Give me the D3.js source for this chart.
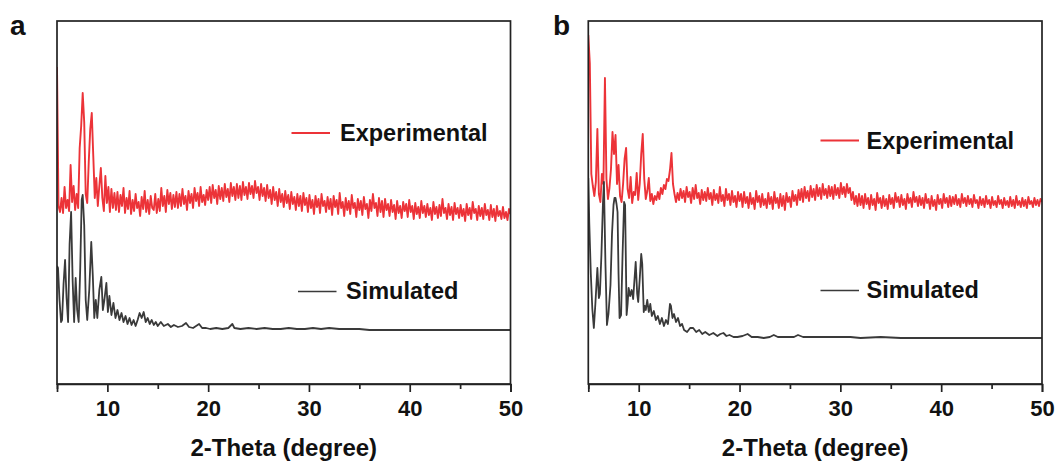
<!DOCTYPE html>
<html><head><meta charset="utf-8">
<script src="https://cdn.jsdelivr.net/npm/d3@7"></script>
<style>body{margin:0;background:#fff}svg{display:block}</style>
</head><body><svg id="chart" width="1059" height="462"></svg>
<script>
// ---------- data ----------
const xTicks = [10, 20, 30, 40, 50];
const xMinorTicks = [5, 15, 25, 35, 45];
const xDomain = [5, 50];
const xLabel = "2-Theta (degree)";
const seriesNames = ["Experimental", "Simulated"];
const panelLabels = ["a", "b"];

// experimental patterns sampled on a 2θ grid (start 5°, step 0.15°), intensity a.u. (offset)
const expGridStart = 5, expGridStep = 0.15;
const expA = [
 317,178,172,186,171,197,176,184,173,219,182,198,174,190,176,236,258,291,262,190,
 181,222,255,271,228,186,206,178,198,216,186,173,208,181,197,172,195,176,191,174,
 192,172,189,178,196,171,186,175,193,170,184,173,190,176,182,168,187,175,193,172,
 184,170,188,176,174,190,171,185,173,196,178,188,172,194,180,191,175,189,177,192,
 176,190,178,195,180,188,174,193,181,190,176,196,183,191,178,197,182,189,179,194,
 184,197,181,199,186,194,180,198,185,196,183,200,187,195,182,201,188,197,184,200,
 186,198,184,202,189,197,185,201,190,198,186,203,191,197,184,200,188,196,183,199,
 186,194,180,197,184,192,178,195,182,190,177,193,181,189,175,192,180,187,174,190,
 178,188,173,191,179,186,172,189,176,184,170,188,177,185,171,190,178,183,172,187,
 175,185,169,188,177,184,170,191,176,182,168,186,174,183,170,189,176,181,167,185,
 174,183,169,187,175,180,166,184,173,190,176,181,168,186,172,183,167,185,174,180,
 168,184,172,179,165,183,171,178,166,182,173,180,167,184,172,178,165,181,170,177,
 166,183,171,178,167,180,169,176,164,182,170,177,166,179,168,185,171,176,165,180,
 169,177,164,181,170,176,166,179,168,175,163,180,169,176,165,182,171,175,164,178,
 168,176,165,180,169,174,164,179,167,175,163,178,168,173,165,177,166,172,164,175,
 170
];
const expB = [
 349,321,210,198,188,202,255,190,182,210,200,306,205,185,196,215,252,230,249,200,
 219,188,182,200,225,236,195,186,207,181,192,189,211,184,200,230,250,205,185,193,
 206,183,190,180,188,184,192,185,196,190,199,195,205,203,214,231,200,190,182,191,
 184,195,186,193,182,197,187,192,181,196,185,199,186,191,180,194,184,192,183,196,
 185,191,179,194,184,190,181,197,183,189,178,195,184,190,179,193,182,188,177,192,
 183,190,177,192,181,187,176,191,180,186,175,193,182,188,177,190,179,185,176,191,
 180,187,175,192,181,186,176,190,178,188,174,191,182,187,177,193,183,189,179,194,
 184,195,182,197,186,193,183,198,187,195,184,199,188,196,185,200,189,195,186,198,
 188,197,185,199,189,196,186,201,190,197,187,200,191,196,184,192,180,188,178,190,
 179,188,176,190,180,186,175,189,179,185,174,191,181,186,176,188,178,185,175,189,
 180,186,176,191,182,187,177,189,179,185,175,190,181,186,177,192,182,187,178,188,
 179,186,176,190,181,185,175,188,178,184,174,189,180,185,176,190,181,186,177,188,
 178,187,180,189,179,185,177,190,181,186,178,188,180,185,177,189,181,184,176,187,
 179,185,177,188,180,184,176,187,179,183,177,188,180,184,176,186,179,183,177,187,
 178,184,176,188,179,183,177,186,178,184,176,187,180,183,177,186,179,184,178,185,
 182
];

// simulated patterns as [2θ, intensity]
const simA = [
 [5.0,118],[5.1,116],[5.25,84],[5.4,62],[5.5,64],[5.65,100],[5.8,124],[5.95,86],[6.1,62],[6.25,140],
 [6.4,172],[6.55,104],[6.7,62],[6.85,106],[7.0,74],[7.15,62],[7.3,114],[7.45,184],[7.55,189],[7.7,159],
 [7.85,84],[8.0,64],[8.2,94],[8.4,142],[8.55,109],[8.7,66],[8.85,84],[9.0,66],[9.2,94],[9.4,107],
 [9.55,74],[9.7,84],[9.9,101],[10.05,72],[10.2,88],[10.4,69],[10.6,81],[10.8,66],[11.0,74],[11.2,64],
 [11.4,71],[11.6,62],[11.8,68],[12.0,60],[12.2,66],[12.4,59],[12.6,64],[12.8,58],[13.0,64],[13.2,71],
 [13.4,66],[13.6,72],[13.8,62],[14.0,66],[14.2,60],[14.4,64],[14.6,59],[14.8,62],[15.0,58],[15.3,62],
 [15.6,58],[16.0,60],[16.3,57],[16.6,59],[17.0,57],[17.4,58],[17.8,61],[18.1,57],[18.5,56],[18.8,58],
 [19.1,60],[19.4,56],[19.8,56],[20.2,55],[20.8,56],[21.4,55],[22.0,56],[22.4,60],[22.6,56],[23.2,55],
 [24.0,56],[24.8,55],[25.6,56],[26.4,55],[27.2,55],[28.0,56],[28.8,55],[29.6,55],[30.4,56],[31.2,55],
 [32.0,56],[33.0,55],[34.0,55],[35.0,55],[36.0,54],[38.0,54],[40.0,54],[42.0,54],[44.0,54],[46.0,54],
 [48.0,54],[50.0,54]
];
const simB = [
 [5.0,206],[5.1,160],[5.25,110],[5.4,75],[5.55,56],[5.7,80],[5.9,116],[6.05,86],[6.15,90],[6.3,129],
 [6.45,180],[6.55,202],[6.7,120],[6.85,59],[7.0,70],[7.2,99],[7.35,150],[7.5,179],[7.6,186],[7.7,186],
 [7.8,180],[7.9,172],[8.0,110],[8.1,66],[8.25,69],[8.4,130],[8.55,182],[8.65,179],[8.8,69],[8.9,80],
 [9.0,96],[9.15,88],[9.3,94],[9.45,85],[9.55,100],[9.7,122],[9.85,90],[9.95,82],[10.1,105],[10.25,130],
 [10.35,120],[10.5,72],[10.6,78],[10.7,74],[10.85,84],[11.0,72],[11.15,80],[11.3,68],[11.5,73],[11.7,64],
 [11.9,68],[12.1,60],[12.3,66],[12.5,58],[12.7,64],[12.9,60],[13.1,80],[13.2,78],[13.35,66],[13.5,70],
 [13.7,62],[13.9,66],[14.1,58],[14.3,60],[14.5,54],[14.8,52],[15.1,56],[15.4,56],[15.7,52],[16.0,54],
 [16.3,50],[16.6,52],[17.0,49],[17.4,51],[17.8,48],[18.1,50],[18.4,51],[18.7,48],[19.0,49],[19.4,47],
 [19.8,47],[20.3,48],[20.8,50],[21.2,47],[21.8,47],[22.4,46],[23.0,47],[23.4,49],[23.8,47],[24.6,47],
 [25.4,47],[25.8,49],[26.3,47],[27.0,47],[28.0,47],[29.0,47],[30.0,47],[31.0,47],[32.0,46],[34.0,47],
 [36.0,46],[38.0,46],[40.0,46],[42.0,46],[44.0,46],[46.0,46],[48.0,46],[50.0,46]
];
const yDomain = [0, 363];

// ---------- drawing ----------
const RED = "#ec3338", DARK = "#3a3a3a", AX = "#222";
const FONT = "'Liberation Sans', Arial, Helvetica, sans-serif";
const svg = d3.select("#chart");

const panels = [
  {label: panelLabels[0], exp: expA, sim: simA, left: 57, right: 510.5, top: 21, bottom: 384,
   labelX: 10, legExpY: 133, legSimY: 291.5, legExpX: 291.5, legSimX: 298, legLen: 38.5, textExpX: 340, textSimX: 346},
  {label: panelLabels[1], exp: expB, sim: simB, left: 588.3, right: 1042, top: 21, bottom: 384,
   labelX: 553, legExpY: 140.5, legSimY: 290.5, legExpX: 820.5, legSimX: 820.5, legLen: 38.5, textExpX: 866.5, textSimX: 866.5}
];

panels.forEach((p, pi) => {
  const x = d3.scaleLinear().domain(xDomain).range([p.left, p.right]);
  const y = d3.scaleLinear().domain(yDomain).range([p.bottom, p.top]);
  const g = svg.append("g");
  const clipId = "clip" + pi;
  svg.append("clipPath").attr("id", clipId).append("rect")
    .attr("x", p.left).attr("y", p.top).attr("width", p.right - p.left).attr("height", p.bottom - p.top);

  const expPts = p.exp.map((v, i) => [expGridStart + i * expGridStep, v]);
  const line = d3.line().x(d => x(d[0])).y(d => y(d[1]));

  g.append("path").datum(expPts).attr("clip-path", `url(#${clipId})`)
    .attr("d", line).attr("fill", "none").attr("stroke", RED)
    .attr("stroke-width", 1.9).attr("stroke-linejoin", "round");
  g.append("path").datum(p.sim).attr("clip-path", `url(#${clipId})`)
    .attr("d", line).attr("fill", "none").attr("stroke", DARK)
    .attr("stroke-width", 1.8).attr("stroke-linejoin", "round");

  // frame
  g.append("rect").attr("x", p.left).attr("y", p.top)
    .attr("width", p.right - p.left).attr("height", p.bottom - p.top)
    .attr("fill", "none").attr("stroke", AX).attr("stroke-width", 1.7);

  // bottom axis
  const ax = d3.axisBottom(x).tickValues(xTicks).tickSize(8).tickPadding(8);
  const axG = g.append("g").attr("transform", `translate(0,${p.bottom})`).call(ax);
  axG.select(".domain").attr("stroke", AX).attr("stroke-width", 1.7);
  axG.selectAll(".tick line").attr("stroke", AX).attr("stroke-width", 1.7);
  axG.selectAll(".tick text").attr("font-family", FONT).attr("font-weight", "bold")
    .attr("font-size", 22).attr("fill", "#111");
  const axMinor = d3.axisBottom(x).tickValues(xMinorTicks).tickSize(5).tickFormat("");
  const mG = g.append("g").attr("transform", `translate(0,${p.bottom})`).call(axMinor);
  mG.select(".domain").remove();
  mG.selectAll(".tick line").attr("stroke", AX).attr("stroke-width", 1.7);

  // axis title
  g.append("text").attr("x", (p.left + p.right) / 2).attr("y", 456)
    .attr("text-anchor", "middle").attr("font-family", FONT).attr("font-weight", "bold")
    .attr("font-size", 24).attr("fill", "#111").text(xLabel);

  // panel label
  g.append("text").attr("x", p.labelX).attr("y", 35)
    .attr("font-family", FONT).attr("font-weight", "bold").attr("font-size", 28)
    .attr("fill", "#111").text(p.label);

  // legend
  g.append("line").attr("x1", p.legExpX).attr("x2", p.legExpX + p.legLen)
    .attr("y1", p.legExpY).attr("y2", p.legExpY).attr("stroke", RED).attr("stroke-width", 1.8);
  g.append("text").attr("x", p.textExpX).attr("y", p.legExpY + 8)
    .attr("font-family", FONT).attr("font-weight", "bold").attr("font-size", 23.5)
    .attr("fill", "#111").text(seriesNames[0]);
  g.append("line").attr("x1", p.legSimX).attr("x2", p.legSimX + p.legLen)
    .attr("y1", p.legSimY).attr("y2", p.legSimY).attr("stroke", DARK).attr("stroke-width", 1.7);
  g.append("text").attr("x", p.textSimX).attr("y", p.legSimY + 7)
    .attr("font-family", FONT).attr("font-weight", "bold").attr("font-size", 23.5)
    .attr("fill", "#111").text(seriesNames[1]);
});
</script>
</body></html>
